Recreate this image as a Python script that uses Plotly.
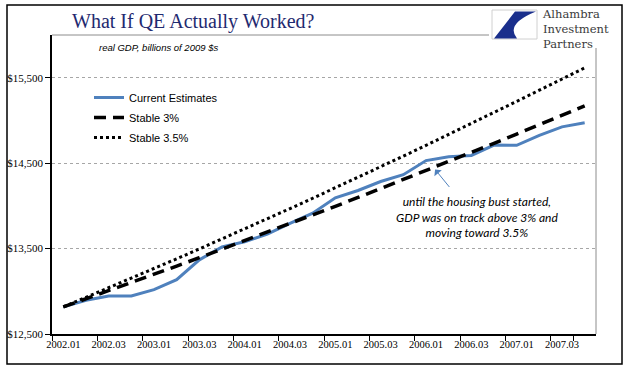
import plotly.graph_objects as go

# ---- data ----
quarters = ["2002.01", "2002.02", "2002.03", "2002.04",
            "2003.01", "2003.02", "2003.03", "2003.04",
            "2004.01", "2004.02", "2004.03", "2004.04",
            "2005.01", "2005.02", "2005.03", "2005.04",
            "2006.01", "2006.02", "2006.03", "2006.04",
            "2007.01", "2007.02", "2007.03", "2007.04"]
current_estimates = [12817, 12895, 12945, 12945, 13020, 13136, 13368, 13520,
                     13580, 13670, 13795, 13915, 14095, 14180, 14285, 14365,
                     14530, 14575, 14590, 14712, 14709, 14826, 14925, 14973]
stable_3 = [12817, 12911, 13006, 13102, 13198, 13295, 13393, 13492,
            13591, 13691, 13792, 13893, 13995, 14098, 14202, 14306,
            14411, 14517, 14624, 14732, 14840, 14949, 15059, 15170]
stable_35 = [12817, 12928, 13039, 13152, 13266, 13380, 13496, 13612,
             13730, 13849, 13968, 14089, 14210, 14333, 14457, 14582,
             14708, 14835, 14963, 15092, 15223, 15354, 15487, 15615]
y_ticks = [12500, 13500, 14500, 15500]
y_tick_labels = ["$12,500", "$13,500", "$14,500", "$15,500"]
x_tick_labels = quarters[::2]

# ---- geometry helpers (pixel -> paper) ----
W, H = 641, 375
ML, MR, MT, MB = 52, 45, 35, 41
PW, PH = W - ML - MR, H - MT - MB


def px(x):
    return (x - ML) / PW


def py(y):
    return (H - MB - y) / PH


fig = go.Figure()
fig.add_trace(go.Scatter(x=quarters, y=current_estimates, mode="lines",
                         name="Current Estimates", legendgroup="a",
                         line=dict(color="#4f81bd", width=3)))
fig.add_trace(go.Scatter(x=quarters, y=stable_3, mode="lines",
                         name="Stable 3%", legendgroup="b",
                         line=dict(color="black", width=3.5, dash="12px,7px")))
fig.add_trace(go.Scatter(x=quarters, y=stable_35, mode="lines",
                         name="Stable 3.5%", legendgroup="c",
                         line=dict(color="black", width=3, dash="3px,3px")))

serif = "Liberation Serif"
sans = "Liberation Sans"

fig.update_layout(
    width=W, height=H,
    margin=dict(l=ML, r=MR, t=MT, b=MB, pad=0, autoexpand=False),
    paper_bgcolor="white", plot_bgcolor="white",
    showlegend=True,
    legend=dict(x=px(89), y=py(83), xanchor="left", yanchor="top",
                bgcolor="rgba(0,0,0,0)", borderwidth=0,
                font=dict(family=sans, size=11, color="black"),
                tracegroupgap=1),
    xaxis=dict(type="category", categoryorder="array", categoryarray=quarters,
               range=[-0.5, len(quarters) - 0.5],
               tickmode="array", tickvals=x_tick_labels, ticktext=x_tick_labels,
               tickson="boundaries", ticks="outside", ticklen=5,
               tickcolor="black", tickwidth=1, tickangle=0, automargin=False,
               showline=True, linecolor="black", linewidth=1.5,
               showgrid=False, zeroline=False,
               tickfont=dict(family=serif, size=10.5, color="black")),
    yaxis=dict(range=[12500, 16000], tickmode="array", tickvals=y_ticks,
               ticktext=y_tick_labels, ticks="outside", ticklen=5,
               tickcolor="black", tickwidth=1, automargin=False,
               showline=True, linecolor="black", linewidth=1.5,
               showgrid=True, gridcolor="#a6a6a6", gridwidth=1, griddash="dot",
               zeroline=False,
               tickfont=dict(family=serif, size=11, color="black")),
)

shapes = [
    # outer frame
    dict(type="rect", xref="paper", yref="paper",
         x0=px(7), x1=px(622), y0=py(364), y1=py(5),
         line=dict(color="black", width=1.5)),
    # top border of plot box (up to the logo)
    dict(type="line", xref="paper", yref="paper",
         x0=0, x1=px(489), y0=1, y1=1,
         line=dict(color="#8c8c8c", width=1)),
    # right border of plot box
    dict(type="line", xref="paper", yref="paper",
         x0=1, x1=1, y0=0, y1=py(48),
         line=dict(color="#8c8c8c", width=1)),
    # logo box
    dict(type="rect", xref="paper", yref="paper",
         x0=px(492), x1=px(537), y0=py(39), y1=py(10),
         line=dict(color="#d0d0d0", width=1), fillcolor="white"),
    # logo swoosh
    dict(type="path", xref="paper", yref="paper",
         path=(f"M {px(515)},{py(11.5)} L {px(536)},{py(11.5)} "
               f"Q {px(505)},{py(24)} {px(517)},{py(38.5)} "
               f"L {px(494)},{py(38.5)} Z"),
         line=dict(width=0), fillcolor="#1a2f8c"),
]
fig.update_layout(shapes=shapes)

ann = [
    dict(text="What If QE Actually Worked?", xref="paper", yref="paper",
         x=px(193.5), y=py(21), xanchor="center", yanchor="middle",
         showarrow=False, font=dict(family=serif, size=20, color="#1f2a70")),
    dict(text="<i>real GDP, billions of 2009 $s</i>", xref="paper", yref="paper",
         x=px(97), y=py(48), xanchor="left", yanchor="middle",
         showarrow=False, font=dict(family=sans, size=9.5, color="black")),
    dict(text="<i>until the housing bust started,<br>GDP was on track above 3% and<br>moving toward 3.5%</i>",
         xref="paper", yref="paper", x=px(477), y=py(217),
         xanchor="center", yanchor="middle", align="center",
         showarrow=False, font=dict(family="Lato", size=12, color="black")),
    dict(text="", xref="x", yref="y", x=16.4, y=14426,
         ax=15.5, ay=19, axref="pixel", ayref="pixel",
         showarrow=True, arrowhead=1, arrowsize=1.6, arrowwidth=1,
         arrowcolor="#4f81bd"),
    dict(text="Alhambra<br>Investment<br>Partners", xref="paper", yref="paper",
         x=px(541), y=py(29), xanchor="left", yanchor="middle", align="left",
         showarrow=False, borderpad=0,
         font=dict(family="DejaVu Serif", size=11.5, color="#3a3a3a")),
]
fig.update_layout(annotations=ann)

fig.write_html("out.html", config={"displayModeBar": False},
               post_script="document.body.style.margin='0';")
